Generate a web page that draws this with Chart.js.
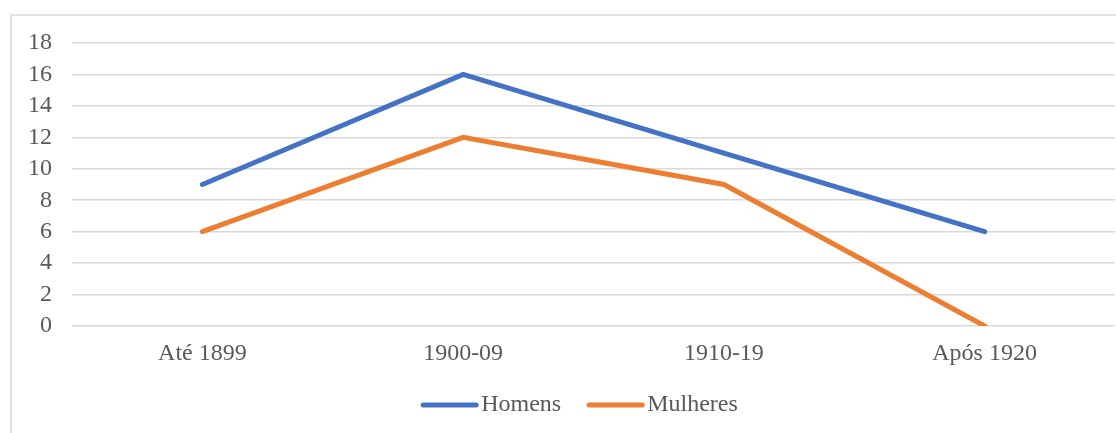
<!DOCTYPE html>
<html>
<head>
<meta charset="utf-8">
<script src="https://cdn.jsdelivr.net/npm/chart.js@4"></script>
<style>
  html, body { margin: 0; padding: 0; background: #fff; }
  #wrap { position: relative; width: 1116px; height: 433px; overflow: hidden; }
  #frame { position: absolute; left: 10px; top: 14px; width: 1200px; height: 500px;
           border: 2px solid #e2e2e2; box-sizing: border-box; pointer-events: none; }
  canvas { position: absolute; left: 0; top: 0; }
</style>
</head>
<body>
<div id="wrap">
  <div id="frame"></div>
  <canvas id="myChart" width="1116" height="433"></canvas>
</div>
<script>
const categories = ["Até 1899", "1900-09", "1910-19", "Após 1920"];
const homens = [9, 16, 11, 6];
const mulheres = [6, 12, 9, 0];
const yTicks = [0, 2, 4, 6, 8, 10, 12, 14, 16, 18];

const textColor = "#595959";
const serif = "'Liberation Serif', 'Times New Roman', serif";

// legend swatches drawn as long rounded lines that sit close to the text
const legendLines = {
  id: "legendLines",
  afterLayout(chart) {
    // the original legend sits a bit right of centre
    chart.legend.left += 22;
    chart.legend.right += 22;
  },
  afterDraw(chart) {
    const ctx = chart.ctx;
    chart.legend.legendHitBoxes.forEach((hb, i) => {
      const ds = chart.data.datasets[i];
      const y = hb.top + hb.height / 2;
      ctx.save();
      ctx.strokeStyle = ds.borderColor;
      ctx.lineWidth = 5;
      ctx.lineCap = "round";
      ctx.beginPath();
      ctx.moveTo(hb.left + 2, y);
      ctx.lineTo(hb.left + 55, y);
      ctx.stroke();
      ctx.restore();
    });
  },
};

new Chart(document.getElementById("myChart"), {
  type: "line",
  data: {
    labels: categories,
    datasets: [
      {
        label: "Homens",
        data: homens,
        borderColor: "#4472C4",
        backgroundColor: "#4472C4",
        borderWidth: 5,
        borderCapStyle: "round",
        pointRadius: 0,
        tension: 0,
      },
      {
        label: "Mulheres",
        data: mulheres,
        borderColor: "#ED7D31",
        backgroundColor: "#ED7D31",
        borderWidth: 5,
        borderCapStyle: "round",
        pointRadius: 0,
        tension: 0,
      },
    ],
  },
  options: {
    responsive: false,
    animation: false,
    font: { family: serif, size: 24 },
    layout: { padding: { top: 43, right: 1, left: 0, bottom: 6 } },
    scales: {
      x: {
        offset: true,
        grid: { display: false, drawTicks: false },
        border: { display: false },
        ticks: { color: textColor, font: { family: serif, size: 24 }, padding: 13, maxRotation: 0 },
        afterFit: (scale) => { scale.height = 41; },
      },
      y: {
        min: 0,
        max: 18,
        afterBuildTicks: (scale) => { scale.ticks = yTicks.map((v) => ({ value: v })); },
        grid: { color: "#d9d9d9", lineWidth: 1.5, drawTicks: false },
        border: { display: false },
        ticks: { color: textColor, font: { family: serif, size: 24, lineHeight: 1 }, padding: 20, autoSkip: false },
        afterFit: (scale) => { scale.width = 72; },
      },
    },
    plugins: {
      legend: {
        position: "bottom",
        labels: {
          color: textColor,
          font: { family: serif, size: 24 },
          boxWidth: 48,
          boxHeight: 5,
          padding: 26,
          generateLabels: (chart) =>
            chart.data.datasets.map((ds, i) => ({
              text: ds.label,
              fillStyle: "rgba(0,0,0,0)",
              strokeStyle: "rgba(0,0,0,0)",
              lineWidth: 0,
              fontColor: textColor,
              datasetIndex: i,
              hidden: false,
            })),
        },
      },
      tooltip: { enabled: false },
    },
  },
  plugins: [legendLines],
});
</script>
</body>
</html>
